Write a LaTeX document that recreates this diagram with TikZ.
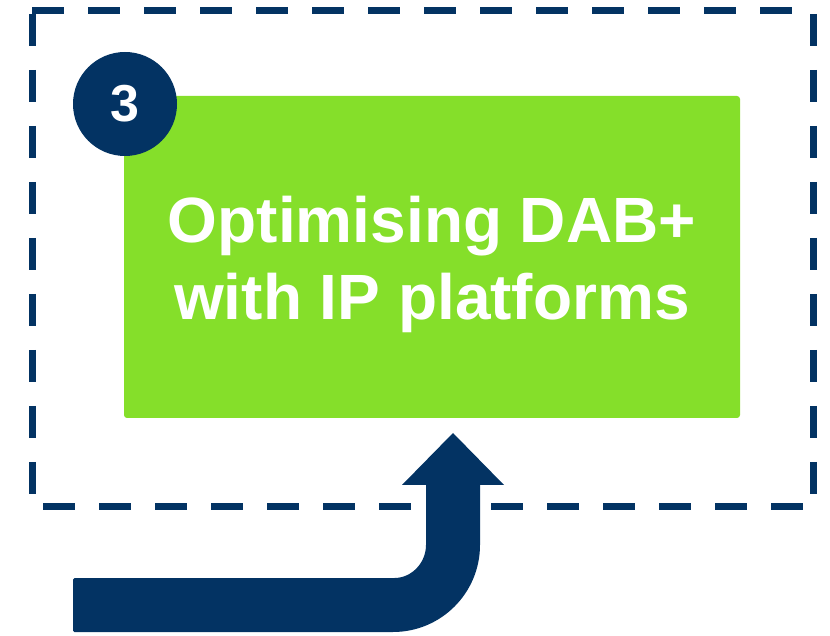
\documentclass[tikz,border=0pt]{standalone}
\usepackage{fontspec}
\setmainfont{Liberation Sans}
\definecolor{navy}{RGB}{3,51,99}
\definecolor{limegreen}{RGB}{133,223,42}
\tikzset{
  dashline/.style={draw=navy, line width=7pt, dash pattern=on 32pt off 24pt},
  greenbox/.style={fill=limegreen, rounded corners=3pt},
  badge/.style={circle, fill=navy, minimum size=104pt, inner sep=0pt, text=white, font=\bfseries\fontsize{52}{52}\selectfont},
  titletext/.style={text=white, align=center, inner sep=0pt, text depth=0pt, font=\bfseries\fontsize{64}{77}\selectfont},
}
\begin{document}
\begin{tikzpicture}[x=1pt,y=1pt]
\useasboundingbox (0,0) rectangle (830,635);
% dashed frame (sides drawn separately to keep corner phases)
\draw[dashline] (32,624.5) -- (813.5,624.5);
\draw[dashline] (32.5,621) -- (32.5,125.5);
\draw[dashline] (813.5,621) -- (813.5,125.5);
\draw[dashline] (43,129) -- (817,129);
% green box
\node[greenbox, minimum width=616pt, minimum height=322pt, inner sep=0pt] (box) at (432,378) {};
\node[titletext] (title) at (432,377) {Optimising DAB+\\with IP platforms};
% badge
\node[badge] (num) at (125,531) {3};
% arrow
\fill[navy, rounded corners=1.5pt] (73,57) -- (393,57) [sharp corners] arc[start angle=-90, end angle=0, radius=33] -- (426,150) -- (402,150) -- (453,202) -- (504,150) -- (480,150) -- (480,90) arc[start angle=0, end angle=-90, radius=87] [rounded corners=1.5pt] -- (73,3) -- cycle;
\end{tikzpicture}
\end{document}
